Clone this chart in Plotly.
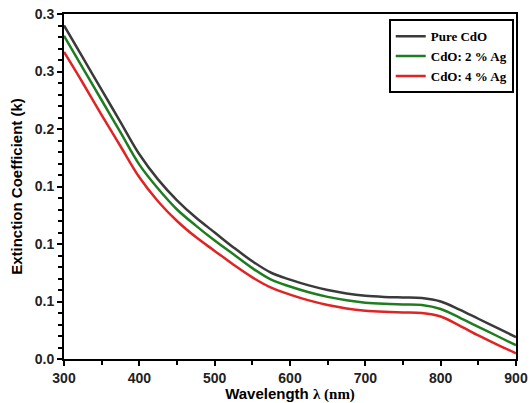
import plotly.graph_objects as go

wavelength = [300, 325, 350, 375, 400, 425, 450, 475, 500, 525, 550, 575, 600,
              625, 650, 675, 700, 725, 750, 775, 800, 825, 850, 875, 900]
pure_cdo = [0.290, 0.262, 0.234, 0.206, 0.178, 0.156, 0.138, 0.123, 0.110, 0.097,
            0.085, 0.075, 0.069, 0.064, 0.060, 0.057, 0.055, 0.054, 0.0535, 0.053,
            0.050, 0.043, 0.035, 0.027, 0.019]
cdo_2ag = [0.281, 0.253, 0.225, 0.197, 0.169, 0.148, 0.130, 0.116, 0.103, 0.091,
           0.079, 0.069, 0.063, 0.058, 0.054, 0.051, 0.049, 0.048, 0.0475, 0.047,
           0.0435, 0.036, 0.028, 0.020, 0.012]
cdo_4ag = [0.267, 0.240, 0.212, 0.185, 0.158, 0.137, 0.120, 0.106, 0.094, 0.082,
           0.071, 0.062, 0.056, 0.051, 0.047, 0.044, 0.042, 0.041, 0.0405, 0.040,
           0.037, 0.029, 0.0205, 0.0125, 0.005]

series = [
    ("Pure CdO", pure_cdo, "#3a3a3a"),
    ("CdO: 2 % Ag", cdo_2ag, "#1e7d1e"),
    ("CdO: 4 % Ag", cdo_4ag, "#e02424"),
]

fig = go.Figure()
for name, vals, color in series:
    fig.add_trace(go.Scatter(x=wavelength, y=vals, name="<b>" + name + "</b>", mode="lines",
                             line=dict(color=color, width=2.5, shape="spline", smoothing=1.0)))

sans = "Liberation Sans, Arial, sans-serif"
serif = "Liberation Serif, Times New Roman, serif"

fig.update_layout(
    width=532, height=403,
    margin=dict(l=64, r=16, t=14, b=44, autoexpand=False),
    paper_bgcolor="white", plot_bgcolor="white",
    showlegend=True,
    legend=dict(x=0.995, y=0.985, xanchor="right", yanchor="top",
                bgcolor="white", bordercolor="black", borderwidth=2,
                font=dict(family=serif, size=13, color="black"),
                itemwidth=30, tracegroupgap=0),
    font=dict(family=sans, color="black"),
)

fig.update_xaxes(
    range=[300, 900], dtick=100, tick0=300, automargin=True,
    showline=True, linecolor="black", linewidth=2, mirror=True,
    ticks="outside", ticklen=5, tickwidth=2, tickcolor="black",
    minor=dict(ticks="outside", dtick=50, ticklen=4, tickwidth=2, tickcolor="black"),
    showgrid=False, zeroline=False,
    tickprefix="<b>", ticksuffix="</b>",
    tickfont=dict(family=sans, size=14, color="#222"),
    title=dict(text="<b>Wavelength <span style='font-family:Liberation Serif'>λ (nm)</span></b>",
               font=dict(family=sans, size=15, color="black"), standoff=5),
)
fig.update_yaxes(
    range=[0, 0.3], dtick=0.05, tick0=0, tickformat=".1f", automargin=True,
    showline=True, linecolor="black", linewidth=2, mirror=True,
    ticks="outside", ticklen=5, tickwidth=2, tickcolor="black",
    minor=dict(ticks="outside", dtick=0.01, ticklen=4, tickwidth=2, tickcolor="black"),
    showgrid=False, zeroline=False,
    tickprefix="<b>", ticksuffix="</b>",
    tickfont=dict(family=sans, size=14, color="#222"),
    title=dict(text="<b>Extinction Coefficient (k)</b>",
               font=dict(family=sans, size=15, color="black"), standoff=8),
)

fig.write_html("out.html",
               config={"displayModeBar": False},
               post_script="document.body.style.margin='0';document.body.style.overflow='hidden';")
